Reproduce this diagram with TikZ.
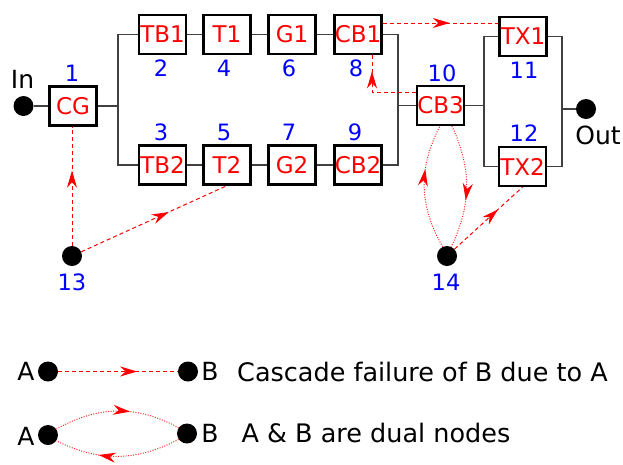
\documentclass[tikz,border=0pt]{standalone}
\usepackage{fontspec}
\setmainfont{DejaVu Sans}
\usetikzlibrary{arrows.meta,decorations.markings,calc}

\tikzset{
  blk/.style={draw=black, line width=2.2pt, fill=white, minimum width=47pt,
    minimum height=39pt, inner sep=0pt, text=red, font=\fontsize{23}{23}\selectfont},
  num/.style={text=blue, inner sep=0pt, font=\fontsize{22.5}{22.5}\selectfont},
  lbl/.style={text=black, inner sep=0pt, font=\fontsize{25}{25}\selectfont},
  dot/.style={circle, fill=black, minimum size=20pt, inner sep=0pt},
  wire/.style={draw=black!75, line width=1.2pt},
  midarrow/.style={postaction={decorate}, decoration={markings,
    mark=at position #1 with {\arrow[red]{Stealth[length=17pt,width=10pt,inset=5.5pt]}}}},
  casc/.style={red, line width=1pt, dash pattern=on 4pt off 3pt, midarrow=#1},
  casc/.default=0.6,
  dual/.style={red!85, line width=1pt, dash pattern=on 1pt off 1.5pt, midarrow=#1},
  dual/.default=0.6,
}

\begin{document}
\begin{tikzpicture}[x=1pt,y=-1pt]
\useasboundingbox (0,0) rectangle (623,464);

% terminals
\node[dot] (in) at (23.5,106) {};
\node[lbl] (inlab) at (22.5,79.5) {In};
\node[dot] (out) at (586,109) {};
\node[lbl] (outlab) at (598,135.5) {Out};

% components
\node[blk] (CG)  at (73,106)    {CG};
\node[blk] (TB1) at (162.5,34.5) {TB1};
\node[blk] (T1)  at (227,34.5)   {T1};
\node[blk] (G1)  at (292,34.5)   {G1};
\node[blk] (CB1) at (358,34.5)   {CB1};
\node[blk] (TB2) at (162.5,165)  {TB2};
\node[blk] (T2)  at (227,165)    {T2};
\node[blk] (G2)  at (292,165)    {G2};
\node[blk] (CB2) at (358,165)    {CB2};
\node[blk] (CB3) at (440.5,105.5) {CB3};
\node[blk] (TX1) at (523,36.5)   {TX1};
\node[blk] (TX2) at (522.5,166.5) {TX2};

% external nodes
\node[dot] (n13) at (72,256) {};
\node[dot] (n14) at (447,256) {};

% component numbers
\node[num] (k1)  at (72,73)   {1};
\node[num] (k2)  at (161,68)  {2};
\node[num] (k4)  at (224,68)  {4};
\node[num] (k6)  at (289,68)  {6};
\node[num] (k8)  at (356,68)  {8};
\node[num] (k3)  at (161,132) {3};
\node[num] (k5)  at (224,132) {5};
\node[num] (k7)  at (289,132) {7};
\node[num] (k9)  at (355,132) {9};
\node[num] (k10) at (442,73)  {10};
\node[num] (k11) at (524,70)  {11};
\node[num] (k12) at (524,133) {12};
\node[num] (k13) at (72,282)  {13};
\node[num] (k14) at (446,282) {14};

% network wiring
\coordinate (j1) at (118,106);
\coordinate (j2) at (398,105.5);
\coordinate (j3) at (484,105.5);
\coordinate (j4) at (562,109);
\draw[wire] (in) -- (CG);
\draw[wire] (CG) -- (j1);
\draw[wire] (TB1) -| (j1) |- (TB2);
\draw[wire] (TB1) -- (T1) -- (G1) -- (CB1);
\draw[wire] (TB2) -- (T2) -- (G2) -- (CB2);
\draw[wire] (CB1) -| (j2) |- (CB2);
\draw[wire] (j2) -- (CB3);
\draw[wire] (CB3) -- (j3);
\draw[wire] (TX1) -| (j3) |- (TX2);
\draw[wire] (TX1) -| (j4) |- (TX2);
\draw[wire] (j4) -- (out);

% cascade failures
\draw[casc=0.63] (n13) -- (n13 |- CG.south);
\draw[casc=0.6] (n13) -- (T2.south);
\draw[casc=0.58] ([yshift=11.5pt]CB1.east) -- ([yshift=11.5pt]CB1.east -| TX1.west);
\draw[casc=0.8] ([yshift=13pt]CB3.west) -| ([xshift=14pt]CB1.south);
\draw[casc=0.64] (n14) -- (TX2.south);

% dual nodes
\draw[dual=0.64] (n14.115) to[bend left=29] ([xshift=-0.5pt]CB3.south);
\draw[dual=0.61] ([xshift=11.5pt]CB3.south) to[bend left=25] (n14.65);

% legend
\node[lbl] (la1) at (26,371.5) {A};
\node[dot] (lA1) at (48,371.5) {};
\node[dot] (lB1) at (188,371.5) {};
\node[lbl] (lb1) at (210,371.5) {B};
\node[lbl, anchor=west, font=\fontsize{25.5}{25.5}\selectfont] (ltx1) at (237,371.5) {Cascade failure of B due to A};
\draw[casc=0.66] (lA1) -- (lB1);

\node[lbl] (la2) at (26,436) {A};
\node[dot] (lA2) at (48,435) {};
\node[dot] (lB2) at (187,433.5) {};
\node[lbl] (lb2) at (210,433.5) {B};
\node[lbl, anchor=west, font=\fontsize{25.5}{25.5}\selectfont] (ltx2) at (241.5,433) {A \& B are dual nodes};
\draw[dual=0.6] (lA2.35) to[bend left=29] (lB2.145);
\draw[dual=0.65] (lB2.215) to[bend left=27] (lA2.-35);
\end{tikzpicture}
\end{document}
